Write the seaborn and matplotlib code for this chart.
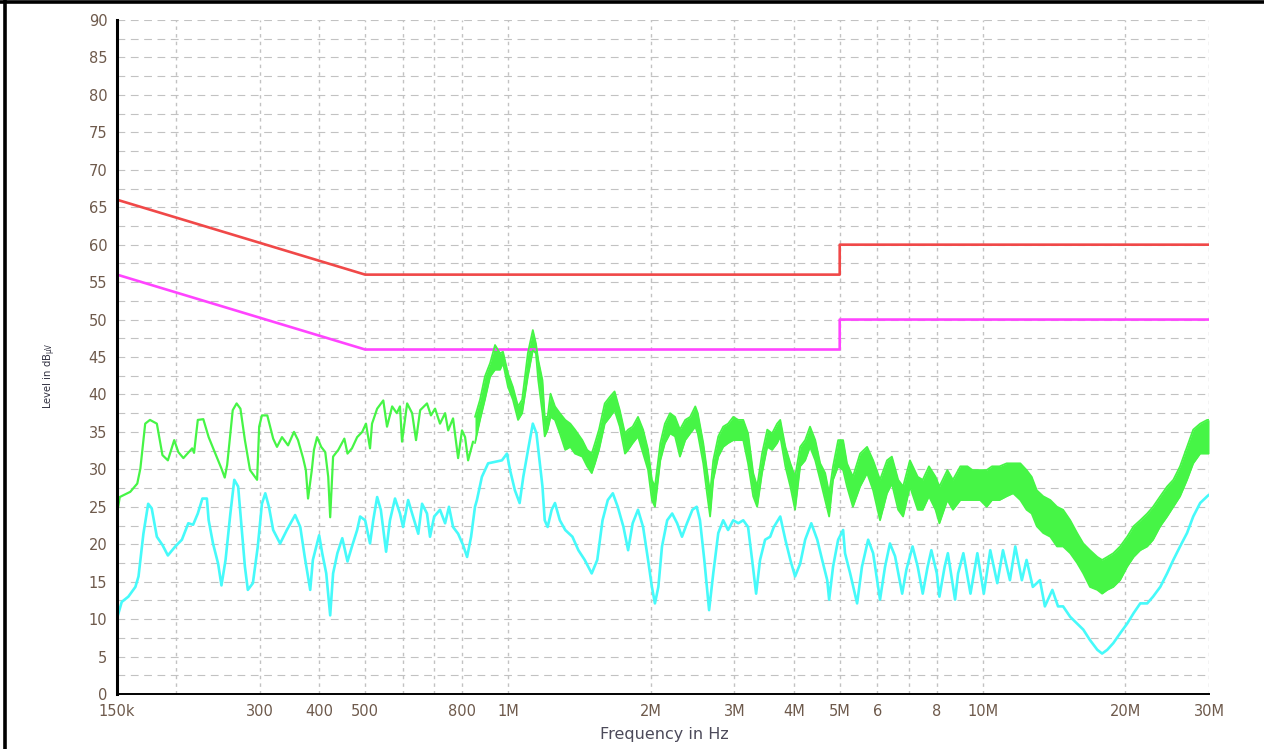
import matplotlib
matplotlib.use("Agg")
import matplotlib.pyplot as plt
from matplotlib.lines import Line2D
from matplotlib.ticker import FixedLocator, FixedFormatter, MultipleLocator, NullLocator
import seaborn as sns

# ---------------------------------------------------------------------------
# Limit lines (frequency in MHz, level in dBuV)
# ---------------------------------------------------------------------------
limit_freq_mhz = [0.15, 0.5, 5.0, 5.0, 30.0]
qp_limit_db = [66, 56, 56, 60, 60]
av_limit_db = [56, 46, 46, 50, 50]

# ---------------------------------------------------------------------------
# Peak detector, 150 kHz .. 850 kHz (single trace)
# ---------------------------------------------------------------------------
peak_lf_freq = [0.150, 0.152, 0.160, 0.1655, 0.168, 0.172, 0.176, 0.182, 0.187, 0.192,
                0.198, 0.202, 0.207, 0.216, 0.218, 0.222, 0.228, 0.234, 0.241, 0.249,
                0.253, 0.256, 0.263, 0.268, 0.273, 0.279, 0.286, 0.296, 0.299, 0.303,
                0.311, 0.320, 0.326, 0.334, 0.344, 0.354, 0.361, 0.370, 0.375, 0.379,
                0.386, 0.390, 0.396, 0.404, 0.412, 0.418, 0.422, 0.428, 0.439, 0.452,
                0.459, 0.469, 0.481, 0.493, 0.502, 0.512, 0.517, 0.530, 0.546, 0.556,
                0.570, 0.583, 0.592, 0.598, 0.613, 0.628, 0.640, 0.653, 0.675, 0.688,
                0.702, 0.719, 0.737, 0.748, 0.766, 0.785, 0.800, 0.812, 0.824, 0.844]
peak_lf_db = [24.0, 26.3, 27.0, 28.1, 30.1, 36.1, 36.6, 36.1, 31.9, 31.2,
              33.9, 32.3, 31.5, 32.8, 32.2, 36.6, 36.7, 34.3, 32.3, 30.1,
              28.9, 30.6, 37.9, 38.8, 38.1, 33.9, 29.9, 28.6, 35.7, 37.2,
              37.2, 34.1, 33.0, 34.3, 33.2, 35.0, 33.9, 31.5, 29.9, 26.1,
              29.9, 32.6, 34.3, 33.0, 32.3, 29.0, 23.6, 31.7, 32.6, 34.1,
              32.1, 32.8, 34.3, 35.0, 36.1, 32.8, 36.1, 38.1, 39.2, 35.7,
              38.4, 37.5, 38.4, 33.7, 38.8, 37.5, 33.9, 37.9, 38.8, 37.2,
              38.1, 36.1, 37.5, 35.2, 36.8, 31.5, 35.2, 34.3, 31.2, 33.7]

# ---------------------------------------------------------------------------
# Peak detector, 850 kHz .. 30 MHz (sweep envelope: max / min per column)
# ---------------------------------------------------------------------------
peak_hf_freq = [0.852, 0.873, 0.894, 0.917, 0.939, 0.962, 0.976, 1.000, 1.024, 1.050,
                1.071, 1.101, 1.128, 1.145, 1.158, 1.182, 1.195, 1.212, 1.229, 1.256,
                1.286, 1.320, 1.353, 1.384, 1.434, 1.468, 1.501, 1.525, 1.555, 1.599,
                1.640, 1.677, 1.720, 1.764, 1.791, 1.831, 1.879, 1.926, 1.973, 2.010,
                2.040, 2.094, 2.141, 2.195, 2.249, 2.303, 2.363, 2.420, 2.481, 2.511,
                2.579, 2.626, 2.666, 2.707, 2.774, 2.841, 2.909, 2.983, 3.057, 3.131,
                3.205, 3.286, 3.350, 3.430, 3.518, 3.602, 3.690, 3.747, 3.841, 3.935,
                4.026, 4.127, 4.228, 4.329, 4.440, 4.548, 4.659, 4.750, 4.841, 4.962,
                5.083, 5.18, 5.33, 5.52, 5.71, 5.88, 6.08, 6.29, 6.44, 6.64,
                6.80, 7.03, 7.30, 7.48, 7.71, 7.96, 8.11, 8.43, 8.66, 8.98,
                9.29, 9.52, 9.88, 10.20, 10.47, 10.86, 11.24, 11.60, 12.01, 12.38,
                12.69, 13.01, 13.42, 13.89, 14.35, 14.78, 15.30, 15.82, 16.30, 16.84,
                17.45, 17.86, 18.31, 18.86, 19.49, 20.17, 20.81, 21.49, 22.23, 22.87,
                23.68, 24.48, 25.23, 26.07, 26.97, 27.79, 28.74, 29.74, 30.0]
peak_hf_max = [37.0, 39.3, 42.4, 44.2, 46.6, 45.5, 45.7, 42.8, 41.0, 38.4,
               39.3, 45.5, 48.6, 46.8, 44.6, 41.9, 37.0, 37.0, 40.1, 38.4,
               37.5, 36.6, 36.1, 35.3, 33.9, 32.6, 32.1, 33.5, 35.3, 38.8,
               39.7, 40.4, 37.9, 34.8, 35.3, 35.7, 37.0, 35.3, 32.6, 28.6,
               27.7, 33.5, 36.1, 37.5, 37.0, 35.3, 36.6, 37.0, 38.4, 37.5,
               33.5, 29.9, 26.8, 31.2, 34.4, 35.7, 36.1, 37.0, 36.6, 36.6,
               34.8, 29.5, 27.7, 32.1, 35.3, 34.8, 36.1, 36.6, 33.0, 30.8,
               29.0, 33.0, 33.9, 35.7, 33.9, 30.8, 29.5, 26.8, 30.4, 33.9,
               33.9, 30.8, 29.0, 32.1, 33.0, 31.2, 28.6, 31.2, 31.7, 28.6,
               27.7, 31.2, 29.0, 28.6, 30.4, 29.0, 27.7, 29.9, 28.6, 30.4,
               30.4, 29.9, 29.9, 29.9, 30.4, 30.4, 30.8, 30.8, 30.8, 29.9,
               29.0, 27.2, 26.4, 25.9, 25.0, 24.6, 23.2, 21.5, 20.1, 19.2,
               18.3, 17.9, 18.3, 18.8, 19.7, 21.0, 22.4, 23.2, 24.1, 25.0,
               26.4, 27.7, 28.6, 30.4, 33.0, 35.3, 36.1, 36.6, 36.6]
peak_hf_min = [33.5, 36.6, 39.3, 42.4, 43.3, 43.3, 44.2, 41.0, 39.3, 36.6,
               37.5, 42.4, 45.9, 45.5, 41.9, 37.5, 34.4, 35.3, 37.0, 36.6,
               34.8, 32.6, 33.0, 32.1, 31.7, 30.4, 29.5, 30.8, 32.6, 36.1,
               37.0, 37.9, 35.7, 32.1, 32.6, 33.5, 34.4, 32.1, 29.9, 25.9,
               25.0, 31.2, 33.5, 34.8, 34.4, 31.7, 33.9, 34.8, 35.7, 34.8,
               30.8, 26.8, 23.7, 28.6, 31.7, 33.0, 33.5, 33.9, 33.9, 33.9,
               30.8, 26.4, 25.0, 29.5, 33.0, 32.6, 33.5, 34.4, 30.4, 27.7,
               24.6, 30.4, 31.2, 33.0, 31.2, 28.6, 25.9, 23.7, 28.6, 30.4,
               29.9, 27.7, 25.0, 27.7, 29.5, 27.2, 23.2, 26.8, 28.1, 24.6,
               23.7, 27.7, 24.6, 24.6, 26.4, 24.6, 22.8, 25.9, 24.6, 25.9,
               25.9, 25.9, 25.9, 25.0, 25.9, 25.9, 26.4, 26.8, 25.9, 24.6,
               24.1, 22.4, 21.5, 21.0, 19.7, 19.7, 18.8, 17.5, 16.1, 14.3,
               13.9, 13.4, 13.9, 14.3, 15.2, 17.0, 18.3, 19.2, 19.7, 20.6,
               22.4, 23.7, 25.0, 26.4, 28.6, 30.8, 32.1, 32.1, 32.1]

# ---------------------------------------------------------------------------
# Average detector, 150 kHz .. 30 MHz
# ---------------------------------------------------------------------------
avg_freq = [0.150, 0.1535, 0.1585, 0.164, 0.1665, 0.1705, 0.1745, 0.1775, 0.182, 0.187,
            0.192, 0.199, 0.2055, 0.212, 0.217, 0.222, 0.227, 0.232, 0.234, 0.239,
            0.245, 0.249, 0.254, 0.260, 0.265, 0.270, 0.273, 0.279, 0.283, 0.290,
            0.297, 0.303, 0.308, 0.3135, 0.320, 0.331, 0.342, 0.356, 0.365, 0.373,
            0.383, 0.388, 0.400, 0.406, 0.414, 0.422, 0.428, 0.437, 0.4475, 0.459,
            0.469, 0.481, 0.488, 0.500, 0.512, 0.520, 0.530, 0.5395, 0.5535, 0.564,
            0.578, 0.592, 0.601, 0.616, 0.628, 0.647, 0.659, 0.675, 0.685, 0.699,
            0.719, 0.737, 0.751, 0.766, 0.785, 0.804, 0.820, 0.836, 0.852, 0.860,
            0.881, 0.908, 0.939, 0.971, 0.995, 1.010, 1.034, 1.058, 1.077, 1.105,
            1.128, 1.148, 1.165, 1.182, 1.195, 1.212, 1.236, 1.256, 1.286, 1.320,
            1.367, 1.407, 1.451, 1.501, 1.542, 1.582, 1.623, 1.663, 1.703, 1.751,
            1.791, 1.831, 1.879, 1.926, 1.973, 2.010, 2.040, 2.074, 2.111, 2.165,
            2.218, 2.272, 2.326, 2.383, 2.447, 2.498, 2.538, 2.592, 2.653, 2.707,
            2.774, 2.841, 2.909, 2.983, 3.057, 3.131, 3.205, 3.269, 3.333, 3.397,
            3.481, 3.568, 3.632, 3.747, 3.841, 3.935, 4.026, 4.127, 4.228, 4.356,
            4.484, 4.592, 4.706, 4.750, 4.841, 4.962, 5.083, 5.13, 5.26, 5.44,
            5.57, 5.74, 5.88, 6.08, 6.23, 6.38, 6.54, 6.77, 6.91, 7.12,
            7.30, 7.48, 7.66, 7.80, 8.01, 8.11, 8.32, 8.45, 8.75, 8.88,
            9.11, 9.43, 9.75, 10.06, 10.38, 10.74, 11.04, 11.42, 11.72, 12.10,
            12.38, 12.76, 13.21, 13.53, 14.03, 14.42, 14.78, 15.30, 15.82, 16.30,
            16.84, 17.45, 17.86, 18.31, 18.86, 19.49, 20.17, 20.81, 21.49, 22.23,
            22.87, 23.68, 24.48, 25.23, 26.07, 26.97, 27.79, 28.74, 29.74, 30.0]
avg_db = [10.1, 12.3, 13.0, 14.3, 15.7, 21.4, 25.4, 24.8, 21.0, 19.9,
          18.5, 19.7, 20.6, 22.8, 22.6, 24.1, 26.1, 26.1, 23.2, 20.1,
          17.4, 14.5, 17.9, 24.1, 28.6, 27.7, 24.1, 17.0, 13.9, 14.8,
          19.7, 25.4, 26.8, 25.0, 21.9, 20.1, 21.9, 23.9, 22.3, 18.3,
          13.9, 17.9, 21.2, 18.8, 16.1, 10.5, 16.1, 18.8, 20.8, 17.7,
          19.7, 21.9, 23.7, 23.2, 20.1, 23.2, 26.3, 24.6, 19.0, 23.2,
          26.1, 24.1, 22.3, 25.9, 24.1, 21.4, 25.4, 24.1, 21.0, 23.7,
          24.6, 22.8, 25.0, 22.3, 21.4, 19.9, 18.3, 21.0, 25.0, 25.9,
          29.0, 30.8, 31.0, 31.2, 32.1, 29.9, 27.2, 25.5, 29.0, 33.0,
          36.1, 34.8, 31.2, 27.7, 23.2, 22.3, 24.6, 25.5, 23.2, 21.9,
          21.0, 19.2, 17.9, 16.1, 17.9, 23.2, 25.9, 26.8, 25.0, 22.3,
          19.2, 22.8, 24.6, 22.3, 17.9, 14.3, 12.1, 14.3, 19.7, 23.2,
          24.1, 22.8, 21.0, 22.8, 24.6, 25.0, 23.2, 17.9, 11.2, 16.1,
          21.5, 23.2, 21.9, 23.2, 22.8, 23.2, 22.3, 17.9, 13.4, 17.9,
          20.6, 21.0, 22.3, 23.7, 20.6, 17.9, 15.7, 17.4, 20.6, 22.8,
          20.6, 17.9, 15.2, 12.6, 17.0, 20.6, 21.9, 18.8, 16.1, 12.1,
          17.0, 20.6, 18.8, 12.6, 17.0, 20.1, 18.4, 13.4, 16.6, 19.7,
          17.0, 13.4, 17.0, 19.2, 16.1, 13.0, 17.0, 18.8, 12.6, 16.1,
          18.8, 13.4, 18.8, 13.4, 19.2, 14.8, 19.2, 15.2, 19.7, 15.2,
          17.9, 14.3, 15.2, 11.7, 13.9, 11.7, 11.7, 10.3, 9.4, 8.6,
          7.2, 5.9, 5.4, 5.9, 6.8, 8.1, 9.4, 10.8, 12.1, 12.1,
          13.0, 14.3, 16.1, 17.9, 19.7, 21.5, 23.7, 25.5, 26.4, 26.6]

# Axis ticks
x_tick_values = [0.15, 0.2, 0.3, 0.4, 0.5, 0.6, 0.7, 0.8, 1, 2, 3, 4, 5, 6, 7, 8, 10, 20, 30]
x_tick_labels = ["150k", "", "300", "400", "500", "", "", "800", "1M", "2M", "3M",
                 "4M", "5M", "6", "", "8", "10M", "20M", "30M"]

# Colours
QP_RED = "#f04848"
AV_MAGENTA = "#ff44ff"
PEAK_GREEN = "#46f546"
AVG_CYAN = "#46fafa"
GRID_GREY = "#c2c2c2"
LABEL_COLOR = "#6e5a4c"

sns.set_style("white")
plt.rcParams["font.family"] = ["DejaVu Sans"]

fig = plt.figure(figsize=(12.64, 7.49), dpi=100)
ax = fig.add_axes([117 / 1264, 55 / 749, 1092 / 1264, 674 / 749])
ax.set_xscale("log")
ax.set_xlim(0.15, 30)
ax.set_ylim(0, 90)
ax.set_facecolor("white")

# Limit lines
sns.lineplot(x=limit_freq_mhz, y=qp_limit_db, ax=ax, color=QP_RED, linewidth=1.9,
             estimator=None, sort=False)
sns.lineplot(x=limit_freq_mhz, y=av_limit_db, ax=ax, color=AV_MAGENTA, linewidth=1.9,
             estimator=None, sort=False)

# Average detector trace
sns.lineplot(x=avg_freq, y=avg_db, ax=ax, color=AVG_CYAN, linewidth=1.9,
             estimator=None, sort=False)

# Peak detector trace
sns.lineplot(x=peak_lf_freq, y=peak_lf_db, ax=ax, color=PEAK_GREEN, linewidth=1.6,
             estimator=None, sort=False)
ax.fill_between(peak_hf_freq, peak_hf_min, peak_hf_max, color=PEAK_GREEN, linewidth=0)
sns.lineplot(x=peak_hf_freq, y=peak_hf_max, ax=ax, color=PEAK_GREEN, linewidth=1.3,
             estimator=None, sort=False)
sns.lineplot(x=peak_hf_freq, y=peak_hf_min, ax=ax, color=PEAK_GREEN, linewidth=1.3,
             estimator=None, sort=False)

# Ticks
ax.xaxis.set_major_locator(FixedLocator(x_tick_values))
ax.xaxis.set_major_formatter(FixedFormatter(x_tick_labels))
ax.xaxis.set_minor_locator(NullLocator())
ax.yaxis.set_major_locator(MultipleLocator(5))
ax.yaxis.set_minor_locator(MultipleLocator(2.5))

ax.tick_params(axis="y", which="both", direction="inout", length=9, width=1.3,
               color="black", pad=2.5, labelsize=10.5, labelcolor=LABEL_COLOR)
ax.tick_params(axis="x", which="major", direction="inout", length=6.5, width=1.3,
               color="black", pad=4, labelsize=10.5, labelcolor=LABEL_COLOR)

# Grid: dashed horizontals every 2.5 dB, dotted verticals at the tick positions
ax.set_axisbelow(True)
ax.grid(axis="y", which="both", color=GRID_GREY, linestyle=(0, (7, 5)), linewidth=0.8)
ax.grid(axis="x", which="major", color=GRID_GREY, linestyle=(0, (2.5, 3)), linewidth=1.0)

for side in ("top", "right"):
    ax.spines[side].set_visible(False)
ax.spines["left"].set_linewidth(2.2)
ax.spines["left"].set_color("black")
ax.spines["bottom"].set_linewidth(1.4)
ax.spines["bottom"].set_color("black")

ax.set_xlabel("")
ax.set_ylabel("")
fig.text(664 / 1264, 1 - 734 / 749, "Frequency in Hz", ha="center", va="center",
         fontsize=11.5, color="#4c4a5a")
fig.text(50 / 1264, 1 - 376 / 749, r"Level in dB$_{\mathregular{\mu V}}$", rotation=90,
         ha="center", va="center", fontsize=8, fontstretch="condensed", color="#303040")

# Window frame on the left and top edges
fig.add_artist(Line2D([5 / 1264, 5 / 1264], [0, 1], transform=fig.transFigure,
                      color="black", linewidth=2.6))
fig.add_artist(Line2D([0, 1], [1 - 1.5 / 749, 1 - 1.5 / 749], transform=fig.transFigure,
                      color="black", linewidth=2.6))

fig.savefig("out.png", dpi=100, facecolor="white")
